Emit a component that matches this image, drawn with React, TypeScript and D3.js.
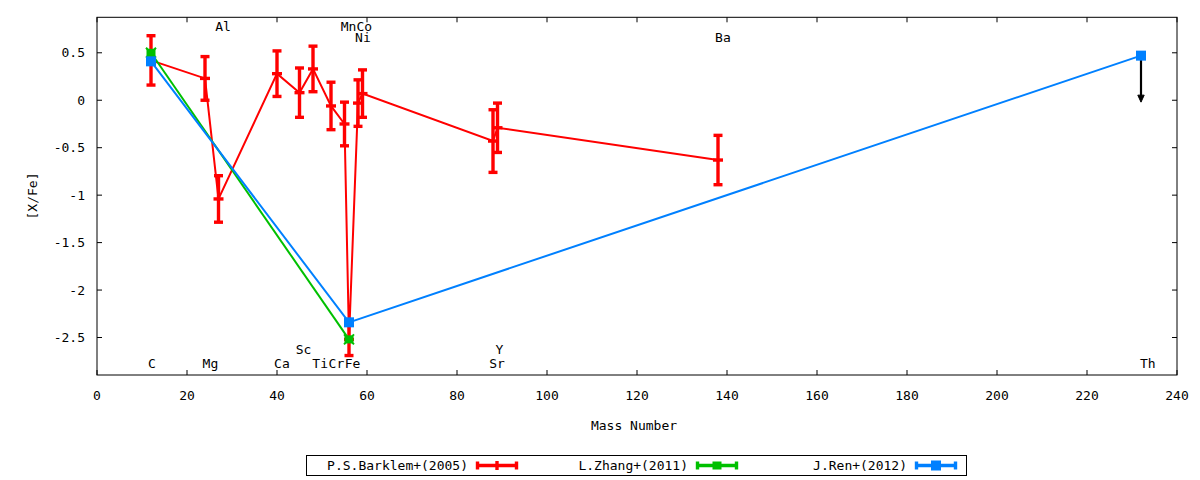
import React from "react";
import * as d3 from "d3";

// ---- data ----
const barklemMass = [12, 24, 27, 40, 45, 48, 52, 55, 56, 58, 59, 88, 89, 138];
const barklemVal = [0.42, 0.23, -1.04, 0.28, 0.08, 0.33, -0.06, -0.25, -2.52, -0.03, 0.07, -0.43, -0.29, -0.63];
const barklemErr = [0.26, 0.23, 0.245, 0.24, 0.26, 0.24, 0.25, 0.23, 0.17, 0.245, 0.25, 0.33, 0.26, 0.26];

const zhangMass = [12, 56];
const zhangVal = [0.5, -2.52];

const renMass = [12, 56, 232];
const renVal = [0.41, -2.34, 0.47];
const renUpperLimit = [false, false, true];
const arrowLength = 0.49;

const xTicks = [0, 20, 40, 60, 80, 100, 120, 140, 160, 180, 200, 220, 240];
const yTicks = [0.5, 0, -0.5, -1, -1.5, -2, -2.5];
const yTickLabels = ["0.5", "0", "-0.5", "-1", "-1.5", "-2", "-2.5"];

const elemNames = ["C", "Mg", "Ca", "Ti", "Cr", "Fe", "Sc", "Sr", "Y", "Th", "Al", "Mn", "Co", "Ni", "Ba"];
const elemLabelX = [12.2, 25.2, 41.1, 49.6, 53.2, 56.8, 45.9, 88.9, 89.4, 233.5, 28.0, 55.9, 59.4, 59.1, 139.1];
const elemLabelY = [-2.77, -2.77, -2.77, -2.77, -2.77, -2.77, -2.63, -2.77, -2.63, -2.77, 0.772, 0.772, 0.772, 0.66, 0.66];

const seriesNames = ["P.S.Barklem+(2005)", "L.Zhang+(2011)", "J.Ren+(2012)"];
const seriesColors = ["#ff0000", "#00c000", "#0080ff"];

// ---- layout ----
const W = 1200;
const H = 480;
const L = 97;
const R = 1177;
const T = 17.3;
const B = 375;
const FONT = "'DejaVu Sans Mono', monospace";

export default function App() {
  const x = d3.scaleLinear().domain([0, 240]).range([L, R]);
  const y = d3.scaleLinear().domain([-2.895, 0.874]).range([B, T]);

  const line = d3
    .line<[number, number]>()
    .x((d) => x(d[0]))
    .y((d) => y(d[1]));

  const red = seriesColors[0];
  const green = seriesColors[1];
  const blue = seriesColors[2];

  const barklemPts: [number, number][] = barklemMass.map((m, i) => [m, barklemVal[i]]);
  const zhangPts: [number, number][] = zhangMass.map((m, i) => [m, zhangVal[i]]);
  const renPts: [number, number][] = renMass.map((m, i) => [m, renVal[i]]);

  const tick = 5;
  const capW = 4.5;

  const legendY = 465.5;
  const legendSamples = [476, 696, 915];
  const sampleLen = 42;

  return (
    <div style={{ position: "fixed", left: 0, top: 0, width: W, height: H, background: "#fff" }}>
      <svg width={W} height={H} style={{ display: "block" }} fontFamily={FONT}>
        <rect x={0} y={0} width={W} height={H} fill="#fff" />

        {/* ticks */}
        {xTicks.map((t) => (
          <g key={"xt" + t}>
            <line x1={x(t)} x2={x(t)} y1={B} y2={B - tick} stroke="#000" strokeWidth={1} />
            <line x1={x(t)} x2={x(t)} y1={T} y2={T + tick} stroke="#000" strokeWidth={1} />
            <text x={x(t)} y={395} textAnchor="middle" dominantBaseline="central" fontSize={13} fill="#000">
              {t}
            </text>
          </g>
        ))}
        {yTicks.map((t, i) => (
          <g key={"yt" + t}>
            <line x1={L} x2={L + tick} y1={y(t)} y2={y(t)} stroke="#000" strokeWidth={1} />
            <line x1={R} x2={R - tick} y1={y(t)} y2={y(t)} stroke="#000" strokeWidth={1} />
            <text x={85} y={y(t)} textAnchor="end" dominantBaseline="central" fontSize={13} fill="#000">
              {yTickLabels[i]}
            </text>
          </g>
        ))}

        {/* frame */}
        <rect x={L} y={T} width={R - L} height={B - T} fill="none" stroke="#000" strokeWidth={1} />

        {/* axis titles */}
        <text x={634} y={425} textAnchor="middle" dominantBaseline="central" fontSize={13} fill="#000">
          Mass Number
        </text>
        <text
          transform={`translate(32,196) rotate(-90)`}
          textAnchor="middle"
          dominantBaseline="central"
          fontSize={13}
          fill="#000"
        >
          [X/Fe]
        </text>

        {/* element labels */}
        {elemNames.map((n, i) => (
          <text
            key={"el" + n}
            x={x(elemLabelX[i])}
            y={y(elemLabelY[i])}
            textAnchor="middle"
            dominantBaseline="central"
            fontSize={13}
            fill="#000"
          >
            {n}
          </text>
        ))}

        {/* Barklem */}
        <path d={line(barklemPts) || ""} fill="none" stroke={red} strokeWidth={2} />
        {barklemMass.map((m, i) => {
          const cx = x(m);
          const yt = y(barklemVal[i] + barklemErr[i]);
          const yb = y(barklemVal[i] - barklemErr[i]);
          const yc = y(barklemVal[i]);
          return (
            <g key={"b" + i} stroke={red} strokeWidth={3.4}>
              <line x1={cx} x2={cx} y1={yt} y2={yb} />
              <line x1={cx - capW} x2={cx + capW} y1={yt} y2={yt} />
              <line x1={cx - capW} x2={cx + capW} y1={yb} y2={yb} />
              <line x1={cx - 5} x2={cx + 5} y1={yc} y2={yc} />
            </g>
          );
        })}

        {/* Zhang */}
        <path d={line(zhangPts) || ""} fill="none" stroke={green} strokeWidth={2} />
        {zhangPts.map((p, i) => {
          const cx = x(p[0]);
          const cy = y(p[1]);
          return (
            <g key={"z" + i}>
              <rect x={cx - 4.5} y={cy - 4} width={9} height={8} fill={green} />
              <path d={`M${cx - 5},${cy - 5}L${cx + 5},${cy + 5}M${cx - 5},${cy + 5}L${cx + 5},${cy - 5}`} stroke={green} strokeWidth={2} />
            </g>
          );
        })}

        {/* Ren */}
        <path d={line(renPts) || ""} fill="none" stroke={blue} strokeWidth={2} />
        {renPts.map((p, i) => {
          const cx = x(p[0]);
          const cy = y(p[1]);
          const ya = y(p[1] - arrowLength);
          return (
            <g key={"r" + i}>
              {renUpperLimit[i] && (
                <g>
                  <line x1={cx} x2={cx} y1={cy} y2={ya - 5} stroke="#000" strokeWidth={2.2} />
                  <path d={`M${cx - 3.2},${ya - 7}L${cx + 3.2},${ya - 7}L${cx},${ya}Z`} fill="#000" stroke="#000" strokeWidth={1} />
                </g>
              )}
              <rect x={cx - 5} y={cy - 5} width={10} height={10} fill={blue} />
            </g>
          );
        })}

        {/* legend */}
        <rect x={306.5} y={455.5} width={660} height={20} fill="#fff" stroke="#000" strokeWidth={1} />
        {seriesNames.map((n, i) => {
          const sx = legendSamples[i];
          const c = seriesColors[i];
          const mx = sx + sampleLen / 2;
          return (
            <g key={"lg" + i}>
              <text x={sx - 8} y={legendY} textAnchor="end" dominantBaseline="central" fontSize={13} fill="#000">
                {n}
              </text>
              <g stroke={c} strokeWidth={3.4}>
                <line x1={sx} x2={sx + sampleLen} y1={legendY} y2={legendY} />
                <line x1={sx + 1.5} x2={sx + 1.5} y1={legendY - 4} y2={legendY + 4} />
                <line x1={sx + sampleLen - 1.5} x2={sx + sampleLen - 1.5} y1={legendY - 4} y2={legendY + 4} />
              </g>
              {i === 0 && <line x1={mx} x2={mx} y1={legendY - 4.5} y2={legendY + 4.5} stroke={c} strokeWidth={3.4} />}
              {i === 1 && <rect x={mx - 4.5} y={legendY - 4} width={9} height={8} fill={c} />}
              {i === 2 && <rect x={mx - 5} y={legendY - 5} width={10} height={10} fill={c} />}
            </g>
          );
        })}
      </svg>
    </div>
  );
}
